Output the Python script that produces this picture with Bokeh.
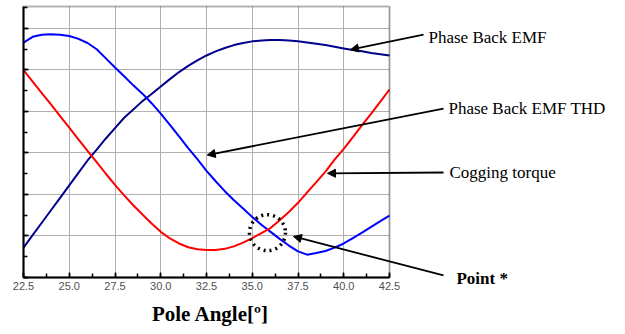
from bokeh.plotting import figure
from bokeh.models import (Arrow, NormalHead, Label, FixedTicker, Range1d,
                          NumeralTickFormatter, BoxAnnotation)
from bokeh.embed import file_html
from bokeh.resources import INLINE

angle = [22.5, 23.0, 23.5, 24.0, 24.5, 25.0, 25.5, 26.0, 26.5, 27.0, 27.5, 28.0, 28.5, 29.0,
         29.5, 30.0, 30.5, 31.0, 31.5, 32.0, 32.5, 33.0, 33.5, 34.0, 34.5, 35.0, 35.5, 36.0,
         36.5, 37.0, 37.5, 38.0, 38.5, 39.0, 39.5, 40.0, 40.5, 41.0, 41.5, 42.0, 42.5]

back_emf_thd = [5.66, 5.80, 5.85, 5.86, 5.85, 5.82, 5.75, 5.65, 5.50, 5.28, 5.06, 4.85, 4.63, 4.43,
                4.20, 3.95, 3.68, 3.40, 3.12, 2.85, 2.57, 2.32, 2.08, 1.86, 1.66, 1.46, 1.27, 1.10,
                0.93, 0.77, 0.63, 0.55, 0.59, 0.64, 0.72, 0.82, 0.95, 1.08, 1.22, 1.36, 1.49]

back_emf = [0.72, 1.02, 1.32, 1.62, 1.92, 2.22, 2.52, 2.82, 3.08, 3.35, 3.60, 3.85, 4.05, 4.25,
            4.42, 4.60, 4.78, 4.95, 5.10, 5.23, 5.35, 5.45, 5.53, 5.60, 5.65, 5.69, 5.71, 5.72,
            5.72, 5.71, 5.69, 5.66, 5.63, 5.60, 5.56, 5.52, 5.48, 5.45, 5.41, 5.38, 5.35]

cogging = [5.00, 4.72, 4.44, 4.17, 3.89, 3.61, 3.33, 3.05, 2.78, 2.50, 2.23, 1.98, 1.74, 1.52,
           1.30, 1.10, 0.94, 0.82, 0.73, 0.68, 0.66, 0.66, 0.69, 0.75, 0.84, 0.95, 1.07, 1.19,
           1.38, 1.58, 1.80, 2.05, 2.30, 2.55, 2.84, 3.10, 3.38, 3.67, 3.95, 4.24, 4.53]

x_ticks = [22.5, 25.0, 27.5, 30.0, 32.5, 35.0, 37.5, 40.0, 42.5]
x_minor = [22.5 + 1.25 * i for i in range(17)]
y_ticks = [0, 1, 2, 3, 4, 5, 6]
y_minor = [0.5 * i for i in range(14)]

x_min, x_max = 22.5, 42.5
y_min, y_max = 0.0, 6.53

point_x = [35.83]
point_y = [1.08]

p = figure(width=625, height=334,
           x_range=Range1d(21.243, 55.396), y_range=Range1d(-1.3735, 6.6747),
           output_backend="svg", toolbar_location=None,
           min_border_left=0, min_border_right=0, min_border_top=0, min_border_bottom=0)
p.background_fill_color = "white"
p.border_fill_color = "white"
p.outline_line_color = None

p.xaxis.fixed_location = 0
p.xaxis.bounds = (x_min, x_max)
p.yaxis.fixed_location = x_min
p.yaxis.bounds = (y_min, y_max)
p.xaxis.ticker = FixedTicker(ticks=x_ticks, minor_ticks=x_minor)
p.yaxis.ticker = FixedTicker(ticks=y_ticks, minor_ticks=y_minor)
p.xaxis.formatter = NumeralTickFormatter(format="0.0")
p.yaxis.major_label_overrides = {t: "" for t in y_ticks}
for ax in (p.xaxis, p.yaxis):
    ax.axis_line_color = "black"
    ax.axis_line_width = 2
    ax.major_tick_in = 5
    ax.major_tick_out = 0
    ax.minor_tick_in = 4
    ax.minor_tick_out = 0
    ax.major_tick_line_color = "black"
    ax.minor_tick_line_color = "black"
    ax.major_tick_line_width = 1.5
    ax.minor_tick_line_width = 1.5
p.xaxis.major_label_text_font = "Liberation Sans"
p.xaxis.major_label_text_font_size = "11px"
p.xaxis.major_label_text_color = "#505050"
p.xaxis.major_label_standoff = 5

p.xgrid.grid_line_color = "#b0b0b0"
p.ygrid.grid_line_color = "#b0b0b0"
p.xgrid.grid_line_width = 1
p.ygrid.grid_line_width = 1

# white masks so the grid stays inside the plot box
for l, r, b, t in [(15, x_min, -5, 10), (x_max, 60, -5, 10), (15, 60, -5, y_min), (15, 60, y_max, 10)]:
    p.add_layout(BoxAnnotation(left=l, right=r, bottom=b, top=t, fill_color="white",
                               fill_alpha=1, line_color=None, level="underlay"))

p.line(angle, back_emf, line_color="#00008c", line_width=2)
p.line(angle, back_emf_thd, line_color="#0000ff", line_width=2)
p.line(angle, cogging, line_color="#ff0000", line_width=2)

# plot box border
p.add_layout(BoxAnnotation(left=x_min, right=x_max, bottom=y_min, top=y_max,
                           fill_alpha=0, line_color="black", line_width=2))

p.scatter(point_x, point_y, size=36, fill_color=None, line_color="black",
          line_width=3.5, line_dash="dotted")

annotations = [
    # (x_start, y_start, x_end, y_end, label_x, label_y, text, bold)
    (44.36, 5.855, 40.37, 5.49, 44.63, 5.78, "Phase Back EMF", False),
    (45.45, 4.07, 32.54, 2.95, 45.72, 4.07, "Phase Back EMF THD", False),
    (45.45, 2.53, 39.11, 2.51, 45.78, 2.53, "Cogging torque", False),
    (45.45, 0.05, 37.25, 0.99, 46.16, -0.02, "Point *", True),
]
for xs, ys, xe, ye, lx, ly, txt, bold in annotations:
    p.add_layout(Arrow(end=NormalHead(size=8, fill_color="black", line_color="black"),
                       x_start=xs, y_start=ys, x_end=xe, y_end=ye,
                       line_color="black", line_width=1.8))
    p.add_layout(Label(x=lx, y=ly, text=txt, text_font="Liberation Serif",
                       text_font_size="17px", text_baseline="middle",
                       text_font_style="bold" if bold else "normal", text_color="black"))

p.add_layout(Label(x=32.72, y=-0.87, text="Pole Angle[º]", text_font="Liberation Serif",
                   text_font_size="21px", text_font_style="bold", text_align="center",
                   text_baseline="middle", text_color="black"))

open("out.html", "w").write(file_html(p, INLINE))
